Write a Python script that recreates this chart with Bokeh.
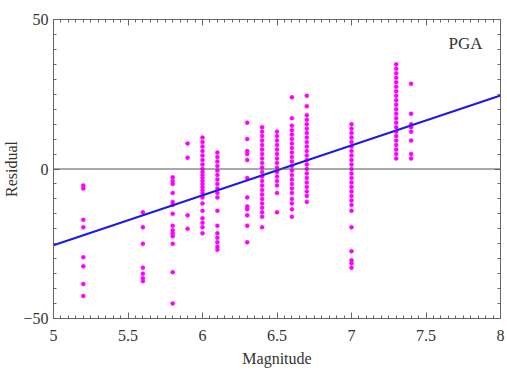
from bokeh.plotting import figure
from bokeh.models import (LinearAxis, Span, Label, FixedTicker, ColumnDataSource,
                          Range1d, CustomJSTickFormatter)
from bokeh.embed import file_html
from bokeh.resources import INLINE

# residuals per magnitude
mags = [5.2, 5.6, 5.8, 5.9, 6.0, 6.1, 6.3, 6.4, 6.5, 6.6, 6.7, 7.0, 7.3, 7.4]
r5_2 = [-5.5, -6.5, -17, -19.5, -29.5, -32.5, -38.5, -42.5]
r5_6 = [-14.5, -19.5, -25, -33, -35, -36.5, -37.5]
r5_8 = [-2.8, -4, -5, -8, -11, -12, -15, -19, -20.5, -21.5, -22.5, -25, -34.5, -45]
r5_9 = [8.5, 3.8, -15.5, -20]
r6_0 = [10.5, 9, 7.5, 6, 4.5, 3, 1.5, 0, -1, -2, -3, -4, -5, -6, -7, -8, -9.5,
        -11.5, -14, -16.5, -18, -19.5, -21.5]
r6_1 = [5.5, 4, 2.5, 1, -0.5, -2, -3.5, -5, -6.5, -8, -9.5, -14, -19, -21.5,
        -23, -24.5, -26, -27]
r6_3 = [15.5, 10, 6, 5, 3, -3, -9.5, -12.5, -13.5, -15.5, -19, -24.5]
r6_4 = [14, 12.5, 11, 9.5, 8, 6.5, 5, 3.5, 2, 0.5, -1, -2.5, -4, -5.5, -7, -8.5,
        -10, -11.5, -13, -14.5, -16, -19.5]
r6_5 = [12.5, 11, 9.5, 8, 6.5, 5, 3.5, 2, 0.5, -1, -2.5, -4, -5.5, -8, -14.5]
r6_6 = [24, 17, 14.5, 13, 11.5, 10, 8.5, 7, 5.5, 4, 2.5, 1, -0.5, -2, -3.5, -5,
        -6.5, -8, -10, -11.5, -13.5, -16]
r6_7 = [24.5, 21, 18, 16.5, 15, 13.5, 12, 10.5, 9, 7.5, 6, 4.5, 3, 1.5, 0, -1.5,
        -3, -4.5, -6, -7.5, -9, -11]
r7_0 = [15, 13.5, 12, 10.5, 9, 7.5, 6, 4.5, 3, 1.5, 0, -1.5, -3, -4.5, -6, -7.5,
        -9, -10.5, -12, -14, -19.5, -27.5, -30.5, -31.5, -33]
r7_3 = [35, 33.5, 32, 30.5, 29, 27.5, 26, 24.5, 23, 21.5, 20, 18.5, 17, 15.5, 14,
        12.5, 11, 9.5, 8, 6.5, 5, 3.5]
r7_4 = [28.5, 18.5, 15, 14, 12.5, 9.5, 5, 3.5]
residuals = [r5_2, r5_6, r5_8, r5_9, r6_0, r6_1, r6_3, r6_4, r6_5, r6_6, r6_7,
             r7_0, r7_3, r7_4]

# regression line
fit_x = [5.0, 8.0]
fit_y = [-25.5, 24.6]

x_ticks = [5, 5.5, 6, 6.5, 7, 7.5, 8]
y_ticks = [-50, 0, 50]

xs, ys = [], []
for m, rs in zip(mags, residuals):
    for r in rs:
        xs.append(m)
        ys.append(r)

FONT = "Liberation Serif"
TXT = "#333333"
AX = "#666666"

p = figure(width=507, height=381, x_range=Range1d(5, 8), y_range=Range1d(-50, 50),
           output_backend="svg", toolbar_location=None,
           min_border_left=53, min_border_right=7, min_border_top=19,
           min_border_bottom=63, x_axis_label="Magnitude", y_axis_label="Residual")
p.grid.visible = False
p.outline_line_color = AX
p.background_fill_color = "white"
p.border_fill_color = "white"

blank = CustomJSTickFormatter(code="return '';")
p.add_layout(LinearAxis(formatter=blank), "above")
p.add_layout(LinearAxis(formatter=blank), "right")

for ax in p.xaxis:
    ax.ticker = FixedTicker(ticks=x_ticks,
                            minor_ticks=[5 + 0.05 * i for i in range(61)])
for ax in p.yaxis:
    ax.ticker = FixedTicker(ticks=y_ticks,
                            minor_ticks=[-50 + 5 * i for i in range(21)])

for ax in p.axis:
    ax.axis_line_color = AX
    ax.major_tick_line_color = AX
    ax.minor_tick_line_color = AX
    ax.major_tick_in = 6
    ax.major_tick_out = 0
    ax.minor_tick_in = 3
    ax.minor_tick_out = 0
    ax.major_label_text_font = FONT
    ax.major_label_text_font_size = "16px"
    ax.major_label_text_color = TXT
    ax.axis_label_text_font = FONT
    ax.axis_label_text_font_size = "16px"
    ax.axis_label_text_font_style = "normal"
    ax.axis_label_text_color = TXT

bottom = p.below[0]
bottom.major_label_standoff = 11
bottom.axis_label_standoff = 6
left = p.left[0]
left.major_label_standoff = 5
left.axis_label_standoff = 0

for ax in (p.above[0], p.right[0]):
    ax.major_label_standoff = 0

p.add_layout(Span(location=0, dimension="width", line_color="#555555", line_width=1))

src = ColumnDataSource(dict(x=xs, y=ys))
p.scatter("x", "y", source=src, size=4, fill_color="#ff00ff", line_color="#ff00ff",
          line_width=0.5)
p.line(fit_x, fit_y, line_color="#1a1ae6", line_width=2)

p.add_layout(Label(x=7.88, y=42, text="PGA", text_font=FONT, text_font_size="17px",
                   text_color=TXT, text_align="right", text_baseline="middle"))

open("out.html", "w").write(file_html(p, INLINE))
